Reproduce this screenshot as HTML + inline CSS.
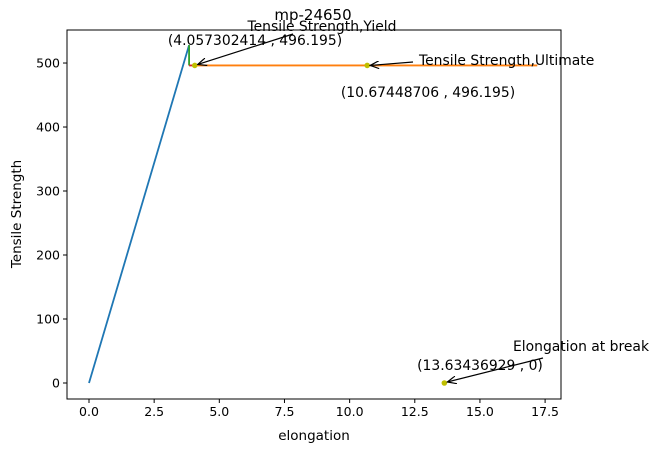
<!DOCTYPE html>
<html><head><meta charset="utf-8"><style>
body{margin:0;background:#fff;}
svg text{font-family:"DejaVu Sans","Liberation Sans",sans-serif;}
</style></head><body>
<svg id="c" width="659" height="453" xmlns="http://www.w3.org/2000/svg">
<defs><marker id="ah" markerWidth="10" markerHeight="8" refX="9" refY="4" orient="auto" markerUnits="userSpaceOnUse"><path d="M0,0 L9,4 L0,8" fill="none" stroke="#000" stroke-width="1.2"/></marker></defs>
<rect x="0" y="0" width="659" height="453" fill="#fff"/>
<g id="plot"></g>
</svg>
<script>
const xTicks=[0,2.5,5,7.5,10,12.5,15,17.5];
const yTicks=[0,100,200,300,400,500];
const elasticX=[0,3.84];
const elasticY=[0,528];
const dropX=[3.84,3.84];
const dropY=[528,496.195];
const redX=[3.84,4.05];
const redY=[496.195,496.195];
const plasticX=[4.06,17.2];
const plasticY=[496.195,496.195];
const pointsX=[4.057302414,10.67448706,13.63436929];
const pointsY=[496.195,496.195,0];
const L=67,R=561,T=30,B=399;
const xMin=-0.844,xMax=18.11,yMin=-25,yMax=551.6;
const sx=v=>L+(v-xMin)/(xMax-xMin)*(R-L);
const sy=v=>B-(v-yMin)/(yMax-yMin)*(B-T);
const g=document.getElementById('plot');
const NS='http://www.w3.org/2000/svg';
function mk(tag,attrs,txt){const e=document.createElementNS(NS,tag);for(const k in attrs)e.setAttribute(k,attrs[k]);if(txt!==undefined)e.textContent=txt;g.appendChild(e);return e;}
function line(xs,ys,col,name){const e=mk('polyline',{points:xs.map((x,i)=>sx(x)+','+sy(ys[i])).join(' '),fill:'none',stroke:col,'stroke-width':1.8});

}
line(elasticX,elasticY,'#1f77b4','elastic-line');
line(dropX,dropY,'#2ca02c','yield-drop-line');
line(plasticX,plasticY,'#ff7f0e','plastic-line');
line(redX,redY,'#d62728','yield-segment');
pointsX.forEach((x,i)=>{const e=mk('circle',{cx:sx(x),cy:sy(pointsY[i]),r:2.8,fill:'#bfbf00'});

});
const fr=mk('rect',{x:L,y:T,width:R-L,height:B-T,fill:'none',stroke:'#000','stroke-width':1});


xTicks.forEach(v=>{const x=sx(v);mk('line',{x1:x,x2:x,y1:B,y2:B+4,stroke:'#000'});
const t=mk('text',{x:x,y:B+17,'font-size':12.5,'text-anchor':'middle'},v.toFixed(1));

});
yTicks.forEach(v=>{const y=sy(v);mk('line',{x1:L-4,x2:L,y1:y,y2:y,stroke:'#000'});
const t=mk('text',{x:L-7,y:y+4.5,'font-size':12.5,'text-anchor':'end'},String(v));

});
function txt(x,y,s,name,anchor,size){const t=mk('text',{x:x,y:y,'font-size':size||13.9,'text-anchor':anchor||'start'},s);

}
txt(313,20,'mp-24650','chart-title','middle',15);
txt(314,440,'elongation','x-axis-title','middle',13.5);
const yt=mk('text',{x:21,y:214,'font-size':13.5,'text-anchor':'middle',transform:'rotate(-90 21 214)'},'Tensile Strength');


function arrow(x1,y1,x2,y2){mk('line',{x1:x1,y1:y1,x2:x2,y2:y2,stroke:'#000','stroke-width':1.2,'marker-end':'url(#ah)'});}
txt(322,31,'Tensile Strength,Yield','annotation-yield','middle');
txt(255,45,'(4.057302414 , 496.195)','annotation-yield-value','middle');
arrow(293,34,sx(pointsX[0])+3,sy(pointsY[0])-1);
txt(419,65,'Tensile Strength,Ultimate','annotation-ultimate');
txt(428,97,'(10.67448706 , 496.195)','annotation-ultimate-value','middle');
arrow(413,62,sx(pointsX[1])+3,sy(pointsY[1]));
txt(513,351,'Elongation at break','annotation-break');
txt(480,370,'(13.63436929 , 0)','annotation-break-value','middle');
arrow(543,358,sx(pointsX[2])+3,sy(pointsY[2])-1);
</script>
</body></html>
